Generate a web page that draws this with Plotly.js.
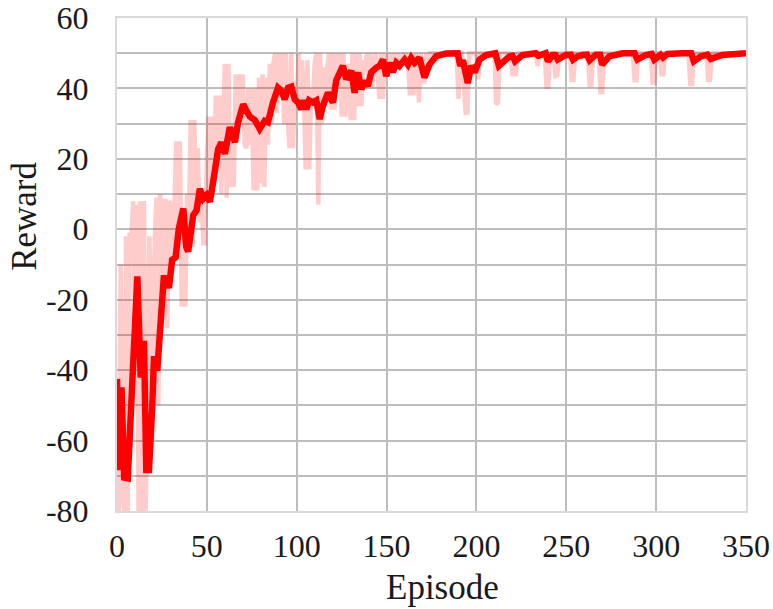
<!DOCTYPE html>
<html>
<head>
<meta charset="utf-8">
<script src="https://cdn.plot.ly/plotly-3.0.1.min.js"></script>
<style>html,body{margin:0;padding:0;background:#fff;}#chart{width:773px;height:609px;}</style>
</head>
<body>
<div id="chart"></div>
<script>
// Raw episode reward (light pink), dense part episodes 0..180
const rawEpisodes = [];
const rawReward = [
  -42,-80,-10,-75,-80,-2,-80,-1,-2,8,
  -30,7,-80,8,-80,8,-80,-50,-2,-20,
  -52,-3,9,-50,10,-28,8,8,-28,8,
  7,-10,4,25,-5,25,-22,5,-22,10,
  3,31,-5,31,10,23,2,10,-4,-4,
  20,32,8,32,15,38,20,38,10,25,
  47,9,47,12,30,12,44,30,44,35,
  44,24,23,40,24,40,11,40,11,43,
  13,44,12,43,24,47,30,47,50,33,
  50,40,50,30,50,31,23,50,23,42,
  35,50,36,48,38,17,48,17,40,37,
  47,50,7,50,30,46,38,46,50,34,
  50,34,50,45,50,32,50,32,47,45,
  31,50,31,50,35,50,35,48,45,50,
  40,50,40,48,50,45,37,50,37,50,
  45,50,46,50,45,50,48,50,47,50,
  49,50,47,38,50,38,50,48,36,50,
  42,42,50,48,50,50,50,50,48,50,
  50
];
for (let i = 0; i < rawReward.length; i++) rawEpisodes.push(i);
// Raw reward, later part (read at the dips; flat at 50 between them)
const rawLateEpisodes = [180,189,190,191,192,194,195,196,200,201,202,210,211,212,213,219,220,222,223,233,234,235,238,239,240,241,243,244,245,246,252,253,254,255,262,263,264,265,268,269,270,271,287,288,289,290,297,298,299,300,302,303,304,305,318,319,320,321,328,329,330,331,350];
const rawLateReward   = [50,50,37,50,50,33,33,50,50,42.6,50,50,35.5,36,50,50,44,44,50,50,46.4,50,50,40.5,40.5,50,50,43.5,43.7,50,50,42.4,42.4,50,50,41,41,50,50,39,39,50,50,42.3,42.3,50,50,41.7,41.7,50,50,44,44,50,50,41.2,41.2,50,50,42.4,42.4,50,50];

// Smoothed reward (red)
const smoothEpisodes = [0,1,2.5,4,6,11.3,13.2,15,16.3,17.8,19.6,20.6,22.4,25.2,26,27.8,28.9,30.7,32.6,34.4,36.9,38.5,39.6,42.4,44.3,46.1,48,49.8,51.7,53.5,56.3,58.1,60,62.8,65.6,67.4,70.2,72,73.9,76.7,78.5,79.4,82.2,84,86.8,89.6,91.5,93.3,95.2,97,98.9,100.7,102.6,103.9,105.4,106.9,109,110.9,112.8,114.6,117.4,119.3,120.2,122,123.9,125.7,127.6,130.4,132.2,134.1,135.9,137.8,139.6,141.5,144.3,146.1,148,149.8,151.7,153.5,155.4,157.2,160,161.9,163.7,165.6,168.3,171.1,173.9,177.6,183.2,189.6,191,192.5,195.2,197,199,201.7,205.4,210.5,212.5,215.6,218.3,220,221.5,225.7,233,234.5,238.5,239.8,242.4,244,245.3,249.8,252.5,253.8,256.3,259.1,261.5,263,266.5,268.8,270,273.9,281.3,288,289.6,294.3,297.5,299,301.7,302.5,303.8,306.3,314.6,319.5,321,324.8,328.5,330.4,336.9,350];
const smoothReward   = [-42.5,-68.4,-44.9,-70.5,-70.7,-13.4,-42.1,-31.7,-68.4,-68.4,-50.5,-36,-40.2,-19.5,-13.9,-13.9,-16.7,-8.7,-8,0.2,5.9,-5,-6.3,4,5.4,11.5,8.7,9.7,7.8,13.4,22.8,24.7,21.4,29,24.7,30.4,35.5,33.7,32,31,28.5,28.5,30.8,30.4,36,40.2,39.3,36.9,40.2,40.5,36.9,36,34.1,36.6,34.1,36.6,36,36.6,31.3,35.1,38.8,36.9,36,42.3,44.5,46.4,42.6,45,38.8,44.6,39.8,42.1,40.7,44.6,45.9,46.4,48.2,43.5,47.3,44.6,47.3,46.4,48.2,46.8,48.7,47.3,48.7,43.1,46.8,49.2,49.9,50,46.4,48,41.5,46.4,44.6,48.2,49.5,50,46.4,48.2,49.1,49.3,47.7,49.5,50,49.3,50,47.7,49.5,49.5,48.2,49.5,49.6,48.2,49.1,49.5,49.6,48,49.6,49.6,46.8,49.1,50,50,48.2,49.5,49.8,48.2,49.5,49.6,48.8,49.8,50,50,47.7,49.1,49.6,48.4,49.5,50];

const xTicks = [0,50,100,150,200,250,300,350];
const yTicks = [-80,-60,-40,-20,0,20,40,60];

const pink = 'rgba(255,0,0,0.2)';
const traces = [
  {x: rawEpisodes, y: rawReward, mode: 'lines', line: {color: pink, width: 4.5}, hoverinfo: 'skip', showlegend: false},
  {x: rawLateEpisodes, y: rawLateReward, mode: 'lines', line: {color: pink, width: 4.5}, hoverinfo: 'skip', showlegend: false},
  {x: smoothEpisodes, y: smoothReward, mode: 'lines', line: {color: '#ff0000', width: 6.5}, showlegend: false}
];

const serif = '"Liberation Serif", "Times New Roman", serif';
const tickFont = {family: serif, size: 32, color: '#1a1a1a'};
const gridCol = '#bdbdbd';
const layout = {
  width: 773, height: 609,
  margin: {l: 117, r: 27, t: 18, b: 98},
  paper_bgcolor: '#ffffff', plot_bgcolor: '#ffffff',
  showlegend: false,
  xaxis: {
    range: [0, 350.01], tickvals: xTicks, ticktext: xTicks.map(String),
    showgrid: true, gridcolor: gridCol, gridwidth: 2,
    zeroline: false, showline: true, linecolor: '#d9d9d9', linewidth: 2, mirror: true,
    ticks: '', tickfont: tickFont, ticklabelstandoff: 6, ticklabeloverflow: 'allow'
  },
  yaxis: {
    range: [-80.01, 60.01], tickvals: yTicks, ticktext: yTicks.map(String),
    showgrid: true, gridcolor: gridCol, gridwidth: 2,
    minor: {dtick: 10, showgrid: true, gridcolor: gridCol, gridwidth: 2, ticks: ''},
    zeroline: false, showline: true, linecolor: '#d9d9d9', linewidth: 2, mirror: true,
    ticks: '', tickfont: tickFont, ticklabelstandoff: 20, ticklabeloverflow: 'allow'
  },
  annotations: [
    {text: 'Reward', xref: 'paper', yref: 'paper', x: -0.146, y: 0.597, xanchor: 'center', yanchor: 'middle',
     textangle: -90, showarrow: false, font: {family: serif, size: 35, color: '#1a1a1a'}},
    {text: 'Episode', xref: 'paper', yref: 'paper', x: 0.517, y: -0.155, xanchor: 'center', yanchor: 'middle',
     showarrow: false, font: {family: serif, size: 35, color: '#1a1a1a'}}
  ]
};

Plotly.newPlot('chart', traces, layout, {staticPlot: true, displayModeBar: false});
</script>
</body>
</html>
